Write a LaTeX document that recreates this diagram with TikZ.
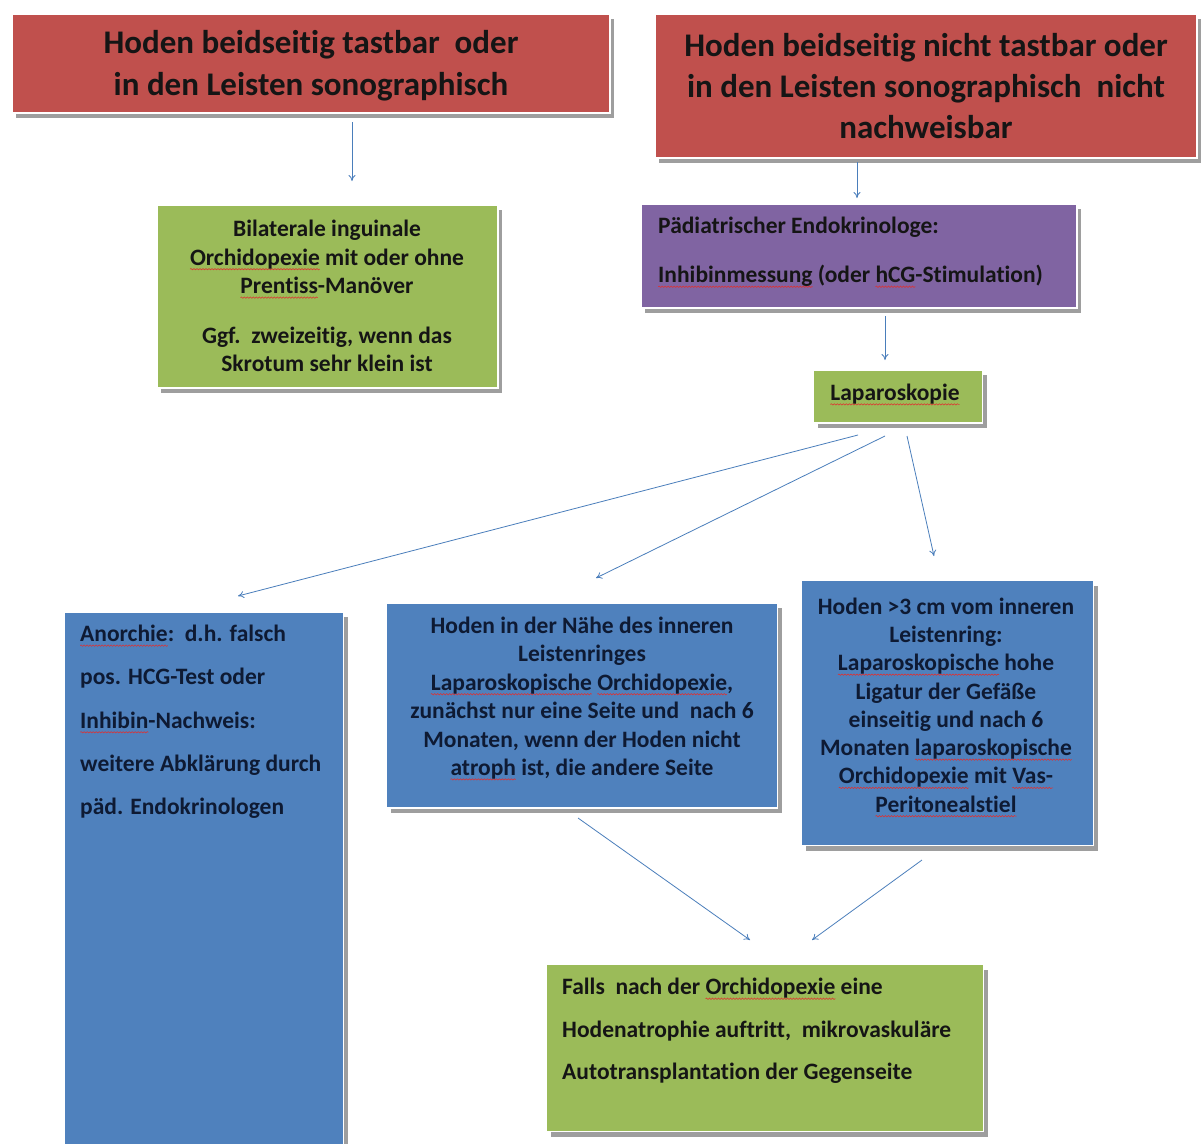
\documentclass[tikz,border=0pt]{standalone}
\usepackage{fontspec}
\setmainfont{Carlito}[Ligatures={NoCommon}]
\usetikzlibrary{arrows.meta,shadows,decorations.pathmorphing}
\definecolor{cred}{HTML}{C0504D}
\definecolor{cgreen}{HTML}{9BBB59}
\definecolor{cpurple}{HTML}{8064A2}
\definecolor{cblue}{HTML}{4F81BD}
\definecolor{carrow}{HTML}{4A7EBB}
\definecolor{squig}{HTML}{E03030}
\definecolor{tdark}{HTML}{151515}
\definecolor{tnavy}{HTML}{0E1A33}
\newsavebox\sqbox
\newlength\sqw
\newcommand\sq[1]{\sbox\sqbox{#1}\setlength\sqw{\wd\sqbox}%
  \rlap{\tikz[overlay,baseline=0pt]\draw[squig, line width=0.55pt, decorate,
    decoration={snake, amplitude=0.7pt, segment length=3pt}] (0pt,-4pt) -- (\sqw,-4pt);}%
  \usebox\sqbox}
\tikzset{
  box/.style={draw=white, line width=1.5pt, inner sep=0pt,
    drop shadow={shadow xshift=4pt, shadow yshift=-5pt, fill=black!38, opacity=1}},
  lbl/.style={inner sep=0pt, text=tdark, font=\bfseries},
  arr/.style={draw=carrow, line width=0.8pt, -{To[length=6pt,width=7pt]}}
}
\begin{document}
\begin{tikzpicture}[x=1pt,y=-1pt]
\useasboundingbox (0,0) rectangle (1203,1144);
\clip (0,0) rectangle (1203,1144);
\fill[white] (0,0) rectangle (1203,1144);
% boxes
\node[box, fill=cred, minimum width=598pt, minimum height=99pt] (r1) at (311,63.5) {};
\node[box, fill=cred, minimum width=542pt, minimum height=144pt] (r2) at (926,86) {};
\node[box, fill=cgreen, minimum width=341pt, minimum height=183pt] (g1) at (327.5,296.5) {};
\node[box, fill=cpurple, minimum width=436pt, minimum height=104pt] (p1) at (859,256) {};
\node[box, fill=cgreen, minimum width=169pt, minimum height=53pt] (lap) at (898,396.5) {};
\node[box, fill=cblue, minimum width=279pt, minimum height=540pt] (b1) at (204,882) {};
\node[box, fill=cblue, minimum width=391pt, minimum height=205pt] (b2) at (582,705.5) {};
\node[box, fill=cblue, minimum width=292pt, minimum height=265pt] (b3) at (947.5,713) {};
\node[box, fill=cgreen, minimum width=437pt, minimum height=167pt] (g2) at (765,1048) {};
% texts
\node[lbl, align=center, font=\fontsize{33}{42}\selectfont\bfseries] (r1t) at (311,66)
  {Hoden beidseitig tastbar\ \ oder\\in den Leisten sonographisch};
\node[lbl, align=center, font=\fontsize{33}{41}\selectfont\bfseries] (r2t) at (926,86)
  {Hoden beidseitig nicht tastbar oder\\in den Leisten sonographisch\ \ nicht\\nachweisbar};
\node[lbl, align=center, font=\fontsize{23.5}{28.5}\selectfont\bfseries] (g1t) at (327,296)
  {Bilaterale inguinale\\\sq{Orchidopexie} mit oder ohne\\\sq{Prentiss}-Manöver\\[21pt]Ggf.\ \ zweizeitig, wenn das\\Skrotum sehr klein ist};
\node[lbl, align=left, anchor=west, font=\fontsize{23.5}{49}\selectfont\bfseries] (p1t) at (658,252)
  {Pädiatrischer Endokrinologe:\\\sq{Inhibinmessung} (oder \sq{hCG}-Stimulation)};
\node[lbl, font=\fontsize{23.5}{28}\selectfont\bfseries] (lapt) at (895,394) {\sq{Laparoskopie}};
\node[lbl, text=tnavy, align=left, anchor=west, font=\fontsize{23.5}{43.3}\selectfont\bfseries] (b1t) at (80,722)
  {\sq{Anorchie}:\ \ d.h. falsch\\pos. HCG-Test oder\\\sq{Inhibin}-Nachweis:\\weitere Abklärung durch\\päd. Endokrinologen};
\node[lbl, text=tnavy, align=center, font=\fontsize{23.5}{28.4}\selectfont\bfseries] (b2t) at (582,698)
  {Hoden in der Nähe des inneren\\Leistenringes\\\sq{Laparoskopische} \sq{Orchidopexie},\\zunächst nur eine Seite und\ \ nach 6\\Monaten, wenn der Hoden nicht\\\sq{atroph} ist, die andere Seite};
\node[lbl, text=tnavy, align=center, font=\fontsize{23.5}{28.3}\selectfont\bfseries] (b3t) at (946,705)
  {Hoden >3 cm vom inneren\\Leistenring:\\\sq{Laparoskopische} hohe\\Ligatur der Gefäße\\einseitig und nach 6\\Monaten \sq{laparoskopische}\\\sq{Orchidopexie} mit \sq{Vas-}\\\sq{Peritonealstiel}};
\node[lbl, align=left, anchor=west, font=\fontsize{23.5}{42.5}\selectfont\bfseries] (g2t) at (562,1031)
  {Falls\ \ nach der \sq{Orchidopexie} eine\\Hodenatrophie auftritt,\ \ mikrovaskuläre\\Autotransplantation der Gegenseite};
% connector end points
\coordinate (a1s) at (352,122); \coordinate (a1e) at (352,181);
\coordinate (a2s) at (857,162); \coordinate (a2e) at (857,198);
\coordinate (a3s) at (885,316); \coordinate (a3e) at (885,360);
\coordinate (a4s) at (858,435); \coordinate (a4e) at (238,596);
\coordinate (a5s) at (885,436); \coordinate (a5e) at (596,578);
\coordinate (a6s) at (907,436); \coordinate (a6e) at (934,556);
\coordinate (a7s) at (578,818); \coordinate (a7e) at (750,940);
\coordinate (a8s) at (922,860); \coordinate (a8e) at (812,940);
\draw[arr] (a1s) -- (a1e);
\draw[arr] (a2s) -- (a2e);
\draw[arr] (a3s) -- (a3e);
\draw[arr] (a4s) -- (a4e);
\draw[arr] (a5s) -- (a5e);
\draw[arr] (a6s) -- (a6e);
\draw[arr] (a7s) -- (a7e);
\draw[arr] (a8s) -- (a8e);
\end{tikzpicture}
\end{document}
